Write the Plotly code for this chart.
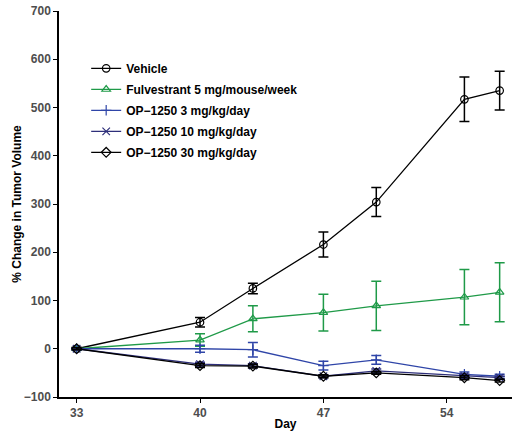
import plotly.graph_objects as go

days = [33, 40, 43, 47, 50, 55, 57]

vehicle = [0, 55, 125, 216, 304, 517, 535]
vehicle_err = [3, 10, 11, 26, 30, 46, 40]

fulv = [0, 18, 62, 75, 89, 107, 117]
fulv_err = [2, 13, 27, 38, 51, 57, 61]

op3 = [0, 0, -2, -35, -23, -53, -57]
op3_err = [2, 7, 15, 9, 9, 5, 4]

op10 = [0, -32, -35, -57, -46, -57, -60]
op10_err = [2, 4, 4, 3, 4, 4, 3]

op30 = [0, -35, -36, -57, -50, -60, -66]
op30_err = [2, 4, 4, 3, 3, 4, 3]

names = ["Vehicle", "Fulvestrant 5 mg/mouse/week", "OP\u22121250 3 mg/kg/day",
         "OP\u22121250 10 mg/kg/day", "OP\u22121250 30 mg/kg/day"]

series = [
    (vehicle, vehicle_err, "#000000", "circle-open"),
    (fulv, fulv_err, "#1F9A48", "triangle-up-open"),
    (op3, op3_err, "#2F45A8", "cross-thin-open"),
    (op10, op10_err, "#2E2F7A", "x-thin-open"),
    (op30, op30_err, "#000000", "diamond-open"),
]

fig = go.Figure()
for name, (vals, errs, col, sym) in zip(names, series):
    fig.add_trace(go.Scatter(
        x=days, y=vals, name=name, mode="lines+markers", legendgroup=name,
        line=dict(color=col, width=1.3),
        marker=dict(symbol=sym, size=7.5, color=col, line=dict(color=col, width=1.2)),
        error_y=dict(type="data", array=errs, visible=True, color=col, thickness=1.5, width=5),
    ))

axis_font = dict(family="Liberation Sans, Arial", size=12, color="#4D4D4D")
fig.update_layout(
    width=512, height=435,
    margin=dict(l=59, r=0, t=11, b=38),
    paper_bgcolor="white", plot_bgcolor="white",
    font=dict(family="Liberation Sans, Arial"),
    showlegend=True,
    legend=dict(x=0.06, y=0.889, xanchor="left", yanchor="top",
                font=dict(family="Liberation Sans, Arial", size=12, color="black", weight="bold"),
                bgcolor="rgba(0,0,0,0)", itemwidth=30, tracegroupgap=2),
    xaxis=dict(range=[32, 57.7], tickvals=[33, 40, 47, 54], showgrid=False, zeroline=False,
               showline=True, linecolor="black", linewidth=1.5, ticks="outside", ticklen=4,
               tickcolor="black", tickfont=dict(**axis_font, weight="bold"),
               title=dict(text="<b>Day</b>", font=dict(family="Liberation Sans, Arial", size=12, color="black"), standoff=0)),
    yaxis=dict(range=[-100, 700], tickvals=[-100, 0, 100, 200, 300, 400, 500, 600, 700],
               ticktext=["\u2212100", "0", "100", "200", "300", "400", "500", "600", "700"],
               showgrid=False, zeroline=False,
               showline=True, linecolor="black", linewidth=1.5, ticks="outside", ticklen=4,
               tickcolor="black", tickfont=dict(**axis_font, weight="bold"),
               title=dict(text="<b>% Change in Tumor Volume</b>", font=dict(family="Liberation Sans, Arial", size=12, color="black"), standoff=0)),
)

fig.write_html("out.html", config={"displayModeBar": False})
with open("out.html", "r", encoding="utf-8") as f:
    html = f.read()
html = html.replace("<head>", "<head><style>html,body{margin:0;padding:0;overflow:hidden;}</style>", 1)
with open("out.html", "w", encoding="utf-8") as f:
    f.write(html)
